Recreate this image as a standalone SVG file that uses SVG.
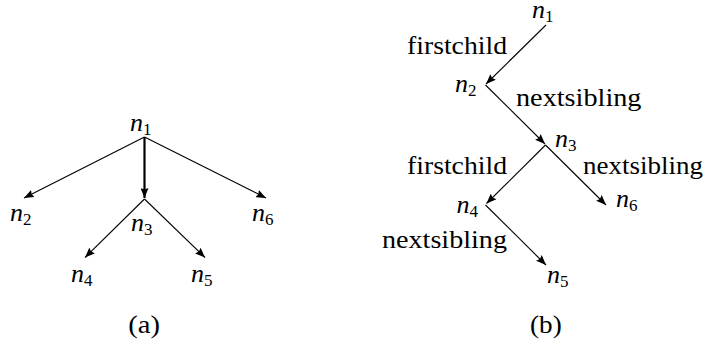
<svg xmlns="http://www.w3.org/2000/svg" width="710" height="345" viewBox="0 0 710 345">
  <style>
    .m { font-family: 'Liberation Serif', 'Times New Roman', serif; font-style: italic; font-size: 26px; fill: #000; }
    .s { font-style: normal; font-size: 17px; }
    .t { font-family: 'Liberation Serif', 'Times New Roman', serif; font-size: 26px; fill: #000; }
    .e { stroke: #000; stroke-width: 1.1; fill: none; marker-end: url(#arr); }
    .thick { stroke-width: 2.2; }
  </style>
  <defs>
    <marker id="arr" markerUnits="userSpaceOnUse" markerWidth="11" markerHeight="8" refX="10" refY="4" orient="auto" viewBox="0 0 11 8">
      <path d="M0,0 L10,4 L0,8 L1.5,4 z" fill="#000"/>
    </marker>
  </defs>
  <rect width="710" height="345" fill="#fff"/>

  <g id="connectors">
    <line class="e" x1="144.5" y1="137" x2="24" y2="198"/>
    <line class="e thick" x1="144.5" y1="137" x2="144.5" y2="198"/>
    <line class="e" x1="144.5" y1="137" x2="266" y2="198"/>
    <line class="e" x1="144.5" y1="199" x2="85" y2="257.5"/>
    <line class="e" x1="144.5" y1="199" x2="205" y2="257.5"/>

    <line class="e" x1="546" y1="25" x2="486" y2="84"/>
    <line class="e" x1="485.5" y1="85" x2="545" y2="144"/>
    <line class="e" x1="545.5" y1="145" x2="486.5" y2="203.5"/>
    <line class="e" x1="545.5" y1="145" x2="606" y2="205"/>
    <line class="e" x1="485.5" y1="205" x2="546" y2="265"/>
  </g>

  <g id="a-n1"><text class="m" x="130" y="131">n<tspan class="s" dy="4">1</tspan></text></g>
  <g id="a-n2"><text class="m" x="10" y="221">n<tspan class="s" dy="4">2</tspan></text></g>
  <g id="a-n3"><text class="m" x="131" y="231">n<tspan class="s" dy="4">3</tspan></text></g>
  <g id="a-n6"><text class="m" x="252" y="221">n<tspan class="s" dy="4">6</tspan></text></g>
  <g id="a-n4"><text class="m" x="71" y="281.5">n<tspan class="s" dy="4">4</tspan></text></g>
  <g id="a-n5"><text class="m" x="191" y="281.5">n<tspan class="s" dy="4">5</tspan></text></g>
  <g id="a-caption"><text class="t" x="128.3" y="333" textLength="31.7" lengthAdjust="spacingAndGlyphs">(a)</text></g>

  <g id="b-n1"><text class="m" x="532" y="17.5">n<tspan class="s" dy="4">1</tspan></text></g>
  <g id="b-n2"><text class="m" x="455" y="91.5">n<tspan class="s" dy="4">2</tspan></text></g>
  <g id="b-n3"><text class="m" x="555" y="146.5">n<tspan class="s" dy="4">3</tspan></text></g>
  <g id="b-n4"><text class="m" x="456.5" y="213">n<tspan class="s" dy="4">4</tspan></text></g>
  <g id="b-n6"><text class="m" x="616" y="207">n<tspan class="s" dy="4">6</tspan></text></g>
  <g id="b-n5"><text class="m" x="547" y="283">n<tspan class="s" dy="4">5</tspan></text></g>

  <g id="labels">
    <text class="t" x="407" y="54" textLength="100" lengthAdjust="spacingAndGlyphs">firstchild</text>
    <text class="t" x="516" y="106" textLength="125.5" lengthAdjust="spacingAndGlyphs">nextsibling</text>
    <text class="t" x="407" y="174" textLength="100" lengthAdjust="spacingAndGlyphs">firstchild</text>
    <text class="t" x="583" y="174.3" textLength="120" lengthAdjust="spacingAndGlyphs">nextsibling</text>
    <text class="t" x="382" y="248" textLength="125" lengthAdjust="spacingAndGlyphs">nextsibling</text>
  </g>
  <g id="b-caption"><text class="t" x="530" y="333" textLength="31.7" lengthAdjust="spacingAndGlyphs">(b)</text></g>
</svg>
